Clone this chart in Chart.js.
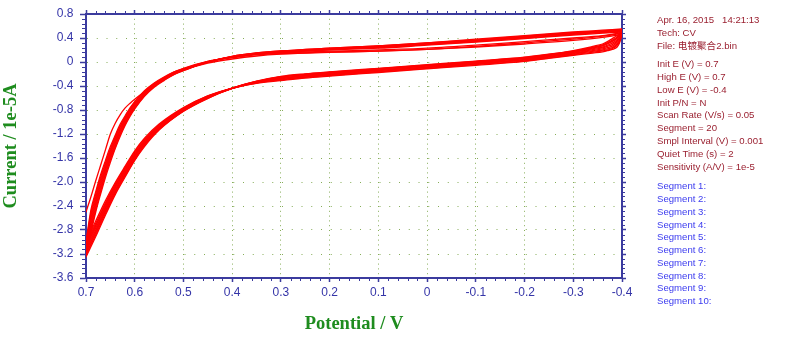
<!DOCTYPE html>
<html><head><meta charset="utf-8">
<script src="https://cdn.jsdelivr.net/npm/chart.js@4.4.1/dist/chart.umd.min.js"></script>
<style>
html,body{margin:0;padding:0;background:#fff;width:800px;height:342px;overflow:hidden}
#wrap{position:relative;width:800px;height:342px}
#c{position:absolute;left:0;top:0}
.info{position:absolute;left:657px;font-family:"Liberation Sans",Arial,"Noto Sans CJK SC",sans-serif;font-size:9.6px;white-space:pre;color:#9a2030}
.info div{height:12.9px;line-height:12.9px}
.seg{color:#3b3bef}
.seg div{height:12.78px;line-height:12.78px}
</style></head>
<body><div id="wrap"><canvas id="c" width="800" height="342"></canvas>
<div class="info" id="b1" style="top:14.2px"></div>
<div class="info" id="b2" style="top:57.9px"></div>
<div class="info seg" id="b3" style="top:180.3px"></div>
</div>
<script>
// ---- data ----
const xTickValues = [0.7, 0.6, 0.5, 0.4, 0.3, 0.2, 0.1, 0, -0.1, -0.2, -0.3, -0.4];
const xTickLabels = ['0.7','0.6','0.5','0.4','0.3','0.2','0.1','0','-0.1','-0.2','-0.3','-0.4'];
const yTickValues = [0.8, 0.4, 0, -0.4, -0.8, -1.2, -1.6, -2.0, -2.4, -2.8, -3.2, -3.6];
const yTickLabels = ['0.8','0.4','0','-0.4','-0.8','-1.2','-1.6','-2.0','-2.4','-2.8','-3.2','-3.6'];

const headerLines = ['Apr. 16, 2015   14:21:13', 'Tech: CV', 'File: 电镀聚合2.bin'];
const paramLines = ['Init E (V) = 0.7', 'High E (V) = 0.7', 'Low E (V) = -0.4', 'Init P/N = N',
  'Scan Rate (V/s) = 0.05', 'Segment = 20', 'Smpl Interval (V) = 0.001', 'Quiet Time (s) = 2',
  'Sensitivity (A/V) = 1e-5'];
const segmentLines = ['Segment 1:', 'Segment 2:', 'Segment 3:', 'Segment 4:', 'Segment 5:',
  'Segment 6:', 'Segment 7:', 'Segment 8:', 'Segment 9:', 'Segment 10:'];

// potential (V): negative-going sweep and positive-going sweep
const forwardE = [0.70, 0.69, 0.68, 0.67, 0.66, 0.65, 0.64, 0.63, 0.62, 0.61, 0.60, 0.58, 0.56, 0.54, 0.52, 0.50, 0.45, 0.40, 0.35, 0.30, 0.20, 0.10, 0.00, -0.10, -0.20, -0.30, -0.36, -0.40];
const reverseE = [-0.40, -0.395, -0.39, -0.38, -0.37, -0.36, -0.34, -0.32, -0.30, -0.25, -0.20, -0.10, 0.00, 0.10, 0.20, 0.25, 0.30, 0.35, 0.40, 0.45, 0.50, 0.55, 0.58, 0.60, 0.62, 0.64, 0.66, 0.68, 0.70];

// current (1e-5 A), cycles 1..10
const fwd1  = [-2.50, -2.25, -1.98, -1.72, -1.46, -1.20, -1.02, -0.88, -0.77, -0.69, -0.62, -0.50, -0.39, -0.29, -0.20, -0.135, -0.02, 0.05, 0.10, 0.13, 0.16, 0.18, 0.21, 0.25, 0.30, 0.36, 0.41, 0.46];
const fwd2  = [-3.00, -2.47, -2.16, -1.88, -1.64, -1.41, -1.22, -1.04, -0.90, -0.77, -0.66, -0.48, -0.35, -0.25, -0.17, -0.105, 0.01, 0.07, 0.12, 0.14, 0.17, 0.18, 0.21, 0.26, 0.32, 0.38, 0.43, 0.48];
const fwd3  = [-3.03, -2.52, -2.20, -1.92, -1.68, -1.45, -1.24, -1.07, -0.92, -0.79, -0.67, -0.49, -0.36, -0.26, -0.17, -0.115, 0.01, 0.08, 0.13, 0.15, 0.18, 0.20, 0.23, 0.28, 0.34, 0.40, 0.44, 0.49];
const fwd4  = [-3.06, -2.56, -2.25, -1.96, -1.71, -1.48, -1.27, -1.09, -0.94, -0.80, -0.69, -0.51, -0.37, -0.27, -0.18, -0.115, 0.00, 0.085, 0.135, 0.165, 0.21, 0.24, 0.29, 0.34, 0.40, 0.46, 0.49, 0.51];
const fwd5  = [-3.08, -2.61, -2.29, -2.00, -1.75, -1.51, -1.30, -1.12, -0.96, -0.82, -0.70, -0.52, -0.38, -0.27, -0.19, -0.125, 0.00, 0.08, 0.13, 0.16, 0.20, 0.23, 0.28, 0.33, 0.39, 0.45, 0.48, 0.50];
const fwd6  = [-3.11, -2.66, -2.33, -2.04, -1.78, -1.54, -1.33, -1.14, -0.98, -0.84, -0.72, -0.53, -0.39, -0.28, -0.19, -0.125, 0.00, 0.085, 0.135, 0.165, 0.21, 0.25, 0.30, 0.35, 0.41, 0.47, 0.50, 0.52];
const fwd7  = [-3.14, -2.71, -2.37, -2.08, -1.81, -1.57, -1.36, -1.16, -1.00, -0.86, -0.74, -0.54, -0.40, -0.29, -0.20, -0.13, 0.00, 0.09, 0.145, 0.175, 0.22, 0.26, 0.31, 0.36, 0.42, 0.48, 0.51, 0.53];
const fwd8  = [-3.17, -2.76, -2.41, -2.12, -1.85, -1.60, -1.39, -1.19, -1.02, -0.88, -0.75, -0.55, -0.40, -0.29, -0.20, -0.135, -0.005, 0.09, 0.145, 0.175, 0.22, 0.26, 0.31, 0.36, 0.42, 0.48, 0.51, 0.53];
const fwd9  = [-3.20, -2.80, -2.46, -2.16, -1.88, -1.63, -1.42, -1.21, -1.04, -0.89, -0.77, -0.56, -0.41, -0.30, -0.21, -0.135, 0.00, 0.095, 0.15, 0.185, 0.23, 0.27, 0.32, 0.37, 0.43, 0.49, 0.52, 0.54];
const fwd10 = [-3.22, -2.85, -2.50, -2.20, -1.92, -1.67, -1.44, -1.24, -1.06, -0.91, -0.78, -0.57, -0.42, -0.31, -0.21, -0.145, 0.00, 0.095, 0.15, 0.185, 0.23, 0.27, 0.32, 0.38, 0.44, 0.50, 0.53, 0.55];

const rev1  = [0.46, 0.32, 0.25, 0.21, 0.19, 0.17, 0.15, 0.13, 0.11, 0.06, 0.01, -0.055, -0.115, -0.175, -0.235, -0.267, -0.31, -0.355, -0.435, -0.565, -0.76, -1.035, -1.27, -1.48, -1.74, -2.01, -2.31, -2.65, -3.00];
const rev2  = [0.48, 0.34, 0.28, 0.225, 0.20, 0.185, 0.163, 0.143, 0.12, 0.07, 0.02, -0.045, -0.105, -0.165, -0.225, -0.257, -0.30, -0.35, -0.44, -0.565, -0.77, -1.05, -1.29, -1.50, -1.76, -2.035, -2.35, -2.69, -3.03];
const rev3  = [0.49, 0.36, 0.305, 0.24, 0.22, 0.20, 0.178, 0.155, 0.13, 0.08, 0.03, -0.035, -0.095, -0.155, -0.215, -0.247, -0.29, -0.345, -0.435, -0.575, -0.77, -1.06, -1.31, -1.52, -1.78, -2.06, -2.37, -2.72, -3.06];
const rev4  = [0.51, 0.38, 0.33, 0.265, 0.24, 0.22, 0.19, 0.166, 0.14, 0.09, 0.04, -0.025, -0.085, -0.145, -0.205, -0.237, -0.28, -0.34, -0.44, -0.575, -0.78, -1.075, -1.32, -1.54, -1.80, -2.08, -2.40, -2.74, -3.08];
const rev5  = [0.50, 0.40, 0.35, 0.29, 0.26, 0.235, 0.205, 0.177, 0.15, 0.095, 0.045, -0.02, -0.08, -0.14, -0.20, -0.232, -0.275, -0.34, -0.44, -0.585, -0.79, -1.08, -1.335, -1.555, -1.82, -2.10, -2.42, -2.77, -3.11];
const rev6  = [0.52, 0.42, 0.37, 0.315, 0.28, 0.25, 0.22, 0.188, 0.16, 0.105, 0.055, -0.01, -0.07, -0.13, -0.19, -0.222, -0.265, -0.335, -0.435, -0.585, -0.79, -1.095, -1.35, -1.57, -1.84, -2.125, -2.445, -2.80, -3.14];
const rev7  = [0.53, 0.44, 0.395, 0.34, 0.30, 0.268, 0.233, 0.20, 0.17, 0.115, 0.065, 0.00, -0.06, -0.12, -0.18, -0.212, -0.255, -0.325, -0.44, -0.595, -0.80, -1.105, -1.36, -1.59, -1.86, -2.15, -2.47, -2.825, -3.17];
const rev8  = [0.53, 0.46, 0.418, 0.365, 0.32, 0.284, 0.246, 0.21, 0.18, 0.12, 0.07, 0.005, -0.055, -0.115, -0.175, -0.207, -0.25, -0.33, -0.44, -0.595, -0.81, -1.115, -1.38, -1.61, -1.88, -2.16, -2.49, -2.85, -3.20];
const rev9  = [0.54, 0.48, 0.44, 0.39, 0.34, 0.30, 0.26, 0.222, 0.19, 0.125, 0.075, 0.01, -0.05, -0.11, -0.17, -0.202, -0.245, -0.325, -0.435, -0.605, -0.82, -1.125, -1.39, -1.63, -1.90, -2.19, -2.52, -2.88, -3.22];
const rev10 = [0.55, 0.45, 0.40, 0.35, 0.31, 0.275, 0.238, 0.204, 0.175, 0.13, 0.08, 0.015, -0.045, -0.105, -0.165, -0.197, -0.24, -0.32, -0.44, -0.605, -0.82, -1.135, -1.41, -1.64, -1.92, -2.21, -2.55, -2.91, -3.25];

const forwardSweeps = [fwd1, fwd2, fwd3, fwd4, fwd5, fwd6, fwd7, fwd8, fwd9, fwd10];
const reverseSweeps = [rev1, rev2, rev3, rev4, rev5, rev6, rev7, rev8, rev9, rev10];

// ---- styles ----
const AXIS = '#3b3b9e';
const LABEL = '#3535a8';
const DOTS = '#86ad58';
const GREEN = '#1e8c1e';
const RED = '#ff0000';

// ---- info panel ----
function fill(id, lines){ const el=document.getElementById(id); lines.forEach(t=>{const d=document.createElement('div'); d.textContent=t; el.appendChild(d);}); }
fill('b1', headerLines); fill('b2', paramLines); fill('b3', segmentLines);

// ---- datasets ----
const datasets = [];
forwardSweeps.forEach((arr) => {
  datasets.push({data: forwardE.map((e, i) => ({x: e, y: arr[i]})), borderColor: RED, borderWidth: 1.3,
    pointRadius: 0, cubicInterpolationMode: 'monotone', fill: false});
});
reverseSweeps.forEach((arr) => {
  datasets.push({data: reverseE.map((e, i) => ({x: e, y: arr[i]})), borderColor: RED, borderWidth: 1.3,
    pointRadius: 0, cubicInterpolationMode: 'monotone', fill: false});
});

function labelFor(values, labels, v){ for (let i=0;i<values.length;i++) if (Math.abs(values[i]-v)<1e-9) return labels[i]; return ''; }
const xMin = Math.min(...xTickValues), xMax = Math.max(...xTickValues);
const yMin = Math.min(...yTickValues), yMax = Math.max(...yTickValues);

const minorTicks = {
  id: 'minorTicks',
  afterDraw(chart) {
    const ctx = chart.ctx, a = chart.chartArea, xs = chart.scales.x, ys = chart.scales.y;
    ctx.save(); ctx.strokeStyle = AXIS; ctx.lineWidth = 1; ctx.beginPath();
    const xStep = (xTickValues[0] - xTickValues[1]) / 5;
    const nx = Math.round((xMax - xMin) / xStep);
    for (let k = 0; k <= nx; k++) {
      if (k % 5 === 0) continue;
      const p = Math.round(xs.getPixelForValue(xMin + k * xStep)) + 0.5;
      ctx.moveTo(p, a.bottom + 1); ctx.lineTo(p, a.bottom + 3);
      ctx.moveTo(p, a.top - 1); ctx.lineTo(p, a.top - 3);
    }
    const yStep = (yTickValues[0] - yTickValues[1]) / 5;
    const ny = Math.round((yMax - yMin) / yStep);
    for (let k = 0; k <= ny; k++) {
      if (k % 5 === 0) continue;
      const p = Math.round(ys.getPixelForValue(yMin + k * yStep)) + 0.5;
      ctx.moveTo(a.left - 1, p); ctx.lineTo(a.left - 4, p);
      ctx.moveTo(a.right + 1, p); ctx.lineTo(a.right + 3, p);
    }
    ctx.stroke(); ctx.restore();
  }
};

const tickFont = {family: '"Liberation Sans", Arial, sans-serif', size: 12};
const titleFont = {family: '"Liberation Serif", "Times New Roman", serif', size: 18.5, weight: 'bold'};

new Chart(document.getElementById('c'), {
  type: 'line',
  data: {datasets},
  plugins: [minorTicks],
  options: {
    responsive: false, animation: false, devicePixelRatio: 1,
    layout: {padding: {left: 0, right: 173, top: 9, bottom: 0}},
    plugins: {legend: {display: false}, tooltip: {enabled: false}},
    elements: {line: {borderCapStyle: 'round', borderJoinStyle: 'round'}},
    scales: {
      x: {
        type: 'linear', position: 'bottom', min: xMin, max: xMax, reverse: true,
        afterBuildTicks: s => { s.ticks = xTickValues.map(v => ({value: v})); },
        afterFit: s => { s.height = 64; },
        ticks: {color: LABEL, font: tickFont, padding: 3.5, maxRotation: 0, autoSkip: false,
          callback: v => labelFor(xTickValues, xTickLabels, v)},
        grid: {color: DOTS, lineWidth: 1, tickLength: 4, tickColor: AXIS, tickWidth: 1.5},
        border: {color: AXIS, width: 2, dash: [1, 3.8]},
        title: {display: true, text: 'Potential / V', color: GREEN, font: titleFont, padding: {top: 0, bottom: 7}}
      },
      x2: {
        type: 'linear', axis: 'x', position: 'top', min: xMin, max: xMax, reverse: true,
        afterBuildTicks: s => { s.ticks = xTickValues.map(v => ({value: v})); },
        afterFit: s => { s.height = 5; },
        ticks: {display: false},
        grid: {drawOnChartArea: false, tickLength: 4, tickColor: AXIS, tickWidth: 1.5},
        border: {color: AXIS, width: 2}
      },
      y: {
        type: 'linear', position: 'left', min: yMin, max: yMax,
        afterBuildTicks: s => { s.ticks = yTickValues.map(v => ({value: v})); },
        afterFit: s => { s.width = 86; },
        ticks: {color: LABEL, font: tickFont, padding: 6.5, autoSkip: false,
          callback: v => labelFor(yTickValues, yTickLabels, v)},
        grid: {color: DOTS, lineWidth: 1, tickLength: 6, tickColor: AXIS, tickWidth: 1.5},
        border: {color: AXIS, width: 2, dash: [1, 8.75]},
        title: {display: true, text: 'Current / 1e-5A', color: GREEN, font: titleFont, padding: {top: 0, bottom: 0}}
      },
      y2: {
        type: 'linear', axis: 'y', position: 'right', min: yMin, max: yMax,
        afterBuildTicks: s => { s.ticks = yTickValues.map(v => ({value: v})); },
        afterFit: s => { s.width = 5; },
        ticks: {display: false},
        grid: {drawOnChartArea: false, tickLength: 4, tickColor: AXIS, tickWidth: 1.5},
        border: {color: AXIS, width: 2}
      }
    }
  }
});
</script>
</body></html>
